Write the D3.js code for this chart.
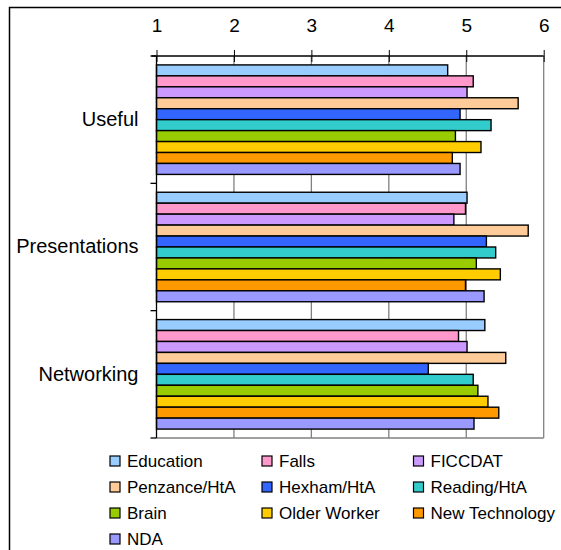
<!DOCTYPE html>
<html>
<head>
<meta charset="utf-8">
<script src="https://cdn.jsdelivr.net/npm/d3@7"></script>
<style>
  html, body { margin: 0; padding: 0; background: #fff; }
  svg { display: block; font-family: "Liberation Sans", Arial, sans-serif; }
</style>
</head>
<body>
<svg id="chart" width="561" height="550"></svg>
<script>
// Rating categories (top to bottom)
const categories = ["Useful", "Presentations", "Networking"];

// Project series, in drawing order within each category
const seriesNames = ["Education", "Falls", "FICCDAT", "Penzance/HtA", "Hexham/HtA",
                     "Reading/HtA", "Brain", "Older Worker", "New Technology", "NDA"];
const seriesColors = ["#99CCFF", "#FF99CC", "#CC99FF", "#FFCC99", "#3366FF",
                      "#33CCCC", "#99CC00", "#FFCC00", "#FF9900", "#9999FF"];

// Mean score per series for each category
const usefulValues        = [4.76, 5.09, 5.01, 5.67, 4.92, 5.32, 4.86, 5.19, 4.82, 4.92];
const presentationsValues = [5.01, 4.99, 4.84, 5.80, 5.26, 5.38, 5.13, 5.44, 4.99, 5.23];
const networkingValues    = [5.24, 4.90, 5.01, 5.51, 4.51, 5.09, 5.15, 5.28, 5.42, 5.10];

const xTicks = [1, 2, 3, 4, 5, 6];

const valuesByCategory = [usefulValues, presentationsValues, networkingValues];

const svg = d3.select("#chart");

// Outer frame (top and left edges)
svg.append("path")
  .attr("d", "M9.5,550 L9.5,7.5 L561,7.5")
  .attr("fill", "none")
  .attr("stroke", "#000")
  .attr("stroke-width", 1.5);

const plot = { left: 156.5, right: 543.7, top: 56, bottom: 438 };

const x = d3.scaleLinear().domain([1, 6]).range([plot.left, plot.right]);
const y = d3.scaleBand().domain(categories).range([plot.top, plot.bottom]).padding(0);
const bw = y.bandwidth();
const yInner = d3.scaleBand().domain(seriesNames)
  .range([bw * 0.07, bw * 0.93]).padding(0);

// Vertical gridlines
svg.append("g").selectAll("line")
  .data(xTicks.filter(t => t > 1))
  .join("line")
  .attr("x1", d => x(d)).attr("x2", d => x(d))
  .attr("y1", plot.top).attr("y2", plot.bottom)
  .attr("stroke", "#808080").attr("stroke-width", 1.3);

// Bottom edge of the plot area
svg.append("line")
  .attr("x1", plot.left).attr("x2", plot.right)
  .attr("y1", plot.bottom).attr("y2", plot.bottom)
  .attr("stroke", "#808080").attr("stroke-width", 1.3);

// Bars
const groups = svg.append("g").selectAll("g")
  .data(categories.map((c, i) => ({ cat: c, vals: valuesByCategory[i] })))
  .join("g")
  .attr("transform", d => `translate(0,${y(d.cat)})`);

groups.selectAll("rect")
  .data(d => d.vals.map((v, j) => ({ name: seriesNames[j], value: v, color: seriesColors[j] })))
  .join("rect")
  .attr("x", x(1))
  .attr("y", d => yInner(d.name))
  .attr("width", d => x(d.value) - x(1))
  .attr("height", yInner.bandwidth())
  .attr("fill", d => d.color)
  .attr("stroke", "#000")
  .attr("stroke-width", 1.4);

// Value axis along the top
const xAxis = d3.axisTop(x).tickValues(xTicks).tickSize(6).tickPadding(18)
  .tickFormat(d3.format("d"));
const gx = svg.append("g")
  .attr("transform", `translate(0,${plot.top})`)
  .call(xAxis);
gx.select(".domain").remove();
gx.selectAll(".tick line")
  .attr("y1", -6).attr("y2", 6)
  .attr("stroke", "#000").attr("stroke-width", 1);
gx.selectAll(".tick text")
  .attr("font-size", 19)
  .attr("font-family", "Liberation Sans, Arial, sans-serif")
  .attr("fill", "#000");
svg.append("line")
  .attr("x1", plot.left - 5).attr("x2", plot.right)
  .attr("y1", plot.top).attr("y2", plot.top)
  .attr("stroke", "#000").attr("stroke-width", 1.3);

// Category axis on the left
const yAxis = d3.axisLeft(y).tickSize(0).tickPadding(18);
const gy = svg.append("g")
  .attr("transform", `translate(${plot.left},0)`)
  .call(yAxis);
gy.select(".domain").remove();
gy.selectAll(".tick text")
  .attr("font-size", 20)
  .attr("font-family", "Liberation Sans, Arial, sans-serif")
  .attr("fill", "#000");
svg.append("line")
  .attr("x1", plot.left).attr("x2", plot.left)
  .attr("y1", plot.top).attr("y2", plot.bottom)
  .attr("stroke", "#000").attr("stroke-width", 1.3);
// Category boundary tick marks
const bounds = categories.map(c => y(c)).concat([plot.bottom]);
svg.append("g").selectAll("line")
  .data(bounds)
  .join("line")
  .attr("x1", plot.left - 6).attr("x2", plot.left)
  .attr("y1", d => d).attr("y2", d => d)
  .attr("stroke", "#000").attr("stroke-width", 1.3);

// Legend: three columns, filled row by row
const legendCols = [110, 262, 413.5];
const legendRow0 = 461, legendRowStep = 26;
const legend = svg.append("g").selectAll("g")
  .data(seriesNames)
  .join("g")
  .attr("transform", (d, i) =>
    `translate(${legendCols[i % 3]},${legendRow0 + Math.floor(i / 3) * legendRowStep})`);
legend.append("rect")
  .attr("x", 0).attr("y", -5)
  .attr("width", 10).attr("height", 10)
  .attr("fill", (d, i) => seriesColors[i])
  .attr("stroke", "#000").attr("stroke-width", 1.2);
legend.append("text")
  .attr("x", 17).attr("y", 0)
  .attr("dy", "0.35em")
  .attr("font-size", 17)
  .attr("fill", "#000")
  .text(d => d);
</script>
</body>
</html>
